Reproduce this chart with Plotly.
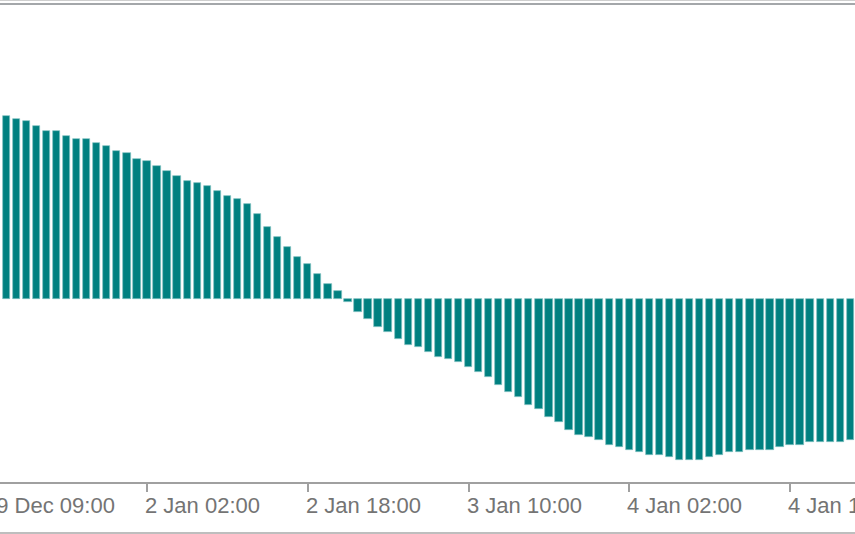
import plotly.graph_objects as go

# Histogram values (arbitrary units), one bar per hour
values = [
    183.3, 180.6, 178.6, 173.3, 168.6, 168.6, 163.3, 160.6, 160.6, 156.0,
    153.3, 148.0, 146.0, 140.6, 138.0, 133.3, 128.0, 123.3, 118.0, 116.0,
    113.3, 108.0, 103.3, 100.6, 95.3, 85.3, 72.6, 62.6, 52.6, 42.6,
    35.3, 25.3, 15.3, 8.0, -2.7, -12.7, -20.0, -27.4, -32.7, -40.0,
    -45.4, -47.4, -52.7, -57.4, -60.0, -62.7, -67.4, -72.7, -77.4, -85.4,
    -92.7, -98.0, -105.4, -110.0, -118.0, -122.7, -130.7, -135.4, -138.0, -140.7,
    -145.4, -148.0, -150.7, -152.7, -155.4, -155.4, -158.0, -160.7, -160.7, -160.7,
    -158.0, -155.4, -152.7, -152.7, -150.7, -150.7, -150.7, -148.0, -145.4, -145.4,
    -142.7, -142.7, -142.7, -142.7, -140.7,
]
bar_index = list(range(len(values)))

# Time-axis labels (bar index at which each label sits)
tick_index = [-2, 14, 30, 46, 62, 78]
tick_labels = ["29 Dec 09:00", "2 Jan 02:00", "2 Jan 18:00", "3 Jan 10:00",
               "4 Jan 02:00", "4 Jan 18:00"]

x_range = [-0.627, 84.465]
y_range = [-182.7, 293.3]

fig = go.Figure()
fig.add_trace(go.Bar(
    x=bar_index, y=values, width=0.73,
    marker=dict(color="#008080", line=dict(color="#80c0c0", width=0.7)),
    hoverinfo="skip",
))

annotations = []
for i, lab in zip(tick_index, tick_labels):
    xp = (i - x_range[0]) / (x_range[1] - x_range[0])
    annotations.append(dict(
        x=xp, xref="paper", y=0, yref="paper",
        text=lab, showarrow=False, xanchor="left", yanchor="middle",
        xshift=-4, yshift=-23,
        font=dict(family="Liberation Sans", size=22, color="#747474"),
    ))

fig.update_layout(
    width=855, height=534,
    margin=dict(l=0, r=0, t=6, b=52),
    paper_bgcolor="white", plot_bgcolor="white",
    showlegend=False,
    bargap=0,
    annotations=annotations,
    xaxis=dict(
        range=x_range, showgrid=False, zeroline=False, fixedrange=True,
        showline=True, linecolor="#a0a0a0", linewidth=2,
        tickmode="array", tickvals=tick_index[1:], ticks="outside",
        ticklen=8, tickwidth=2, tickcolor="#a0a0a0", showticklabels=False,
    ),
    yaxis=dict(range=y_range, showgrid=False, zeroline=False, fixedrange=True,
               showticklabels=False, showline=False),
    shapes=[
        dict(type="line", xref="paper", x0=0, x1=1, yref="paper",
             ysizemode="pixel", yanchor=1, y0=5.5, y1=5.5,
             line=dict(color="#cfcfcf", width=1)),
        dict(type="line", xref="paper", x0=0, x1=1, yref="paper",
             ysizemode="pixel", yanchor=1, y0=2, y1=2,
             line=dict(color="#a4a7aa", width=2)),
        dict(type="line", xref="paper", x0=0, x1=1, yref="paper",
             ysizemode="pixel", yanchor=0, y0=-51, y1=-51,
             line=dict(color="#a8a8a8", width=1.5)),
    ],
)

fig.write_html(
    "out.html",
    config={"displayModeBar": False},
    post_script="document.body.style.margin='0';document.body.style.overflow='hidden';",
)
